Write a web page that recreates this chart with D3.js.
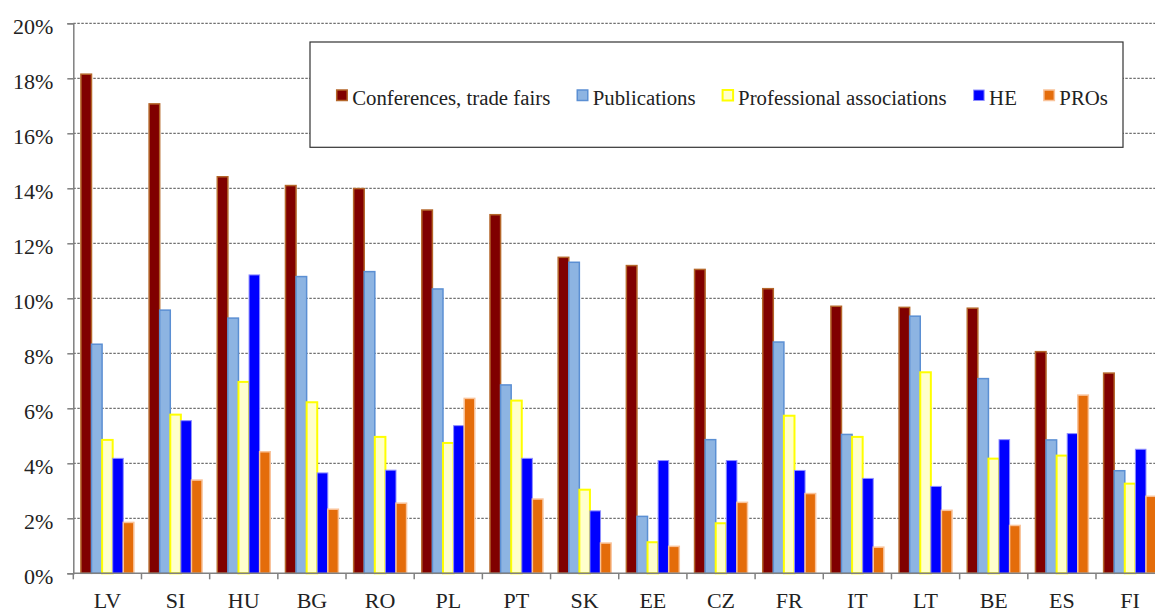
<!DOCTYPE html>
<html>
<head>
<meta charset="utf-8">
<script src="https://cdn.jsdelivr.net/npm/d3@7"></script>
<style>
  body { margin: 0; background: #fff; }
  svg { display: block; }
  svg text { font-family: "Liberation Serif", "DejaVu Serif", "Times New Roman", serif; }
</style>
</head>
<body>
<div class="canvas"></div>
<script>
// chart data (values in %)
const countries = ["LV", "SI", "HU", "BG", "RO", "PL", "PT", "SK", "EE", "CZ", "FR", "IT", "LT", "BE", "ES", "FI"];
const seriesNames = ["Conferences, trade fairs", "Publications", "Professional associations", "HE", "PROs"];
const conferences = [18.15, 17.07, 14.42, 14.1, 13.99, 13.21, 13.04, 11.49, 11.19, 11.05, 10.35, 9.71, 9.67, 9.64, 8.06, 7.28];
const publications = [8.33, 9.57, 9.28, 10.79, 10.97, 10.34, 6.85, 11.31, 2.07, 4.86, 8.41, 5.05, 9.35, 7.08, 4.85, 3.73];
const professional = [4.85, 5.77, 6.96, 6.22, 4.96, 4.74, 6.28, 3.04, 1.13, 1.82, 5.73, 4.96, 7.31, 4.17, 4.28, 3.26];
const he = [4.18, 5.55, 10.85, 3.65, 3.75, 5.37, 4.18, 2.27, 4.10, 4.10, 3.74, 3.45, 3.16, 4.86, 5.08, 4.51];
const pros = [1.85, 3.39, 4.42, 2.33, 2.55, 6.36, 2.70, 1.10, 0.98, 2.58, 2.90, 0.95, 2.29, 1.74, 6.48, 2.80];
const yTicks = [0, 2, 4, 6, 8, 10, 12, 14, 16, 18, 20];

const seriesValues = [conferences, publications, professional, he, pros];
const fills = ["#800000", "#8db4e2", "#ffffcc", "#0000ff", "#e46c0a"];
const strokes = ["#b4662a", "#5b8fd3", "#ffff00", "#8f8fff", "#f9c39a"];
const strokeW = [1.5, 1.5, 2, 1, 1.5];

const serif = '"Liberation Serif", "DejaVu Serif", "Times New Roman", serif';

const dims = { width: 1155, height: 612 };
const margin = { left: 73.3, top: 23.3 };
const plotH = 550;
const plotW = 16 * 68.18; // runs past the right edge like the original

const svg = d3.select('.canvas')
    .append('svg')
    .attr('width', dims.width)
    .attr('height', dims.height);

const graph = svg.append('g')
    .attr('transform', `translate(${margin.left}, ${margin.top})`);

// scales
const x = d3.scaleBand()
    .domain(countries)
    .range([0, plotW])
    .padding(0);

const xSub = d3.scaleBand()
    .domain(seriesNames)
    .range([0, x.bandwidth()])
    .paddingInner(0)
    .paddingOuter(0.72);

const y = d3.scaleLinear()
    .domain([0, 20])
    .range([plotH, 0]);

// dashed gridlines
graph.append('g')
    .selectAll('line')
    .data(yTicks.filter(t => t > 0))
    .enter().append('line')
    .attr('x1', 0)
    .attr('x2', plotW)
    .attr('y1', d => y(d))
    .attr('y2', d => y(d))
    .attr('stroke', '#4d4d4d')
    .attr('stroke-width', 1)
    .attr('stroke-dasharray', '2.5,1.5');

// legend box
const legend = graph.append('g');
legend.append('rect')
    .attr('x', 310 - margin.left)
    .attr('y', 42 - margin.top)
    .attr('width', 1123 - 310)
    .attr('height', 147.3 - 42)
    .attr('fill', '#fff')
    .attr('stroke', '#333')
    .attr('stroke-width', 1.2);

// bars
const groups = graph.append('g')
    .selectAll('g')
    .data(seriesNames)
    .enter().append('g')
    .attr('fill', (d, i) => fills[i])
    .attr('stroke', (d, i) => strokes[i])
    .attr('stroke-width', (d, i) => strokeW[i]);

groups.selectAll('rect')
    .data((name, i) => seriesValues[i].map((v, j) => ({ name, country: countries[j], value: v })))
    .enter().append('rect')
    .attr('x', d => x(d.country) + xSub(d.name))
    .attr('y', d => y(d.value))
    .attr('width', xSub.bandwidth())
    .attr('height', d => y(0) - y(d.value));

// y axis
const yAxis = d3.axisLeft(y)
    .tickValues(yTicks)
    .tickSize(6)
    .tickPadding(14)
    .tickFormat(d => d + '%');

const yG = graph.append('g').call(yAxis).attr('font-family', null);
yG.select('.domain').attr('stroke', '#808080').attr('stroke-width', 1.5);
yG.selectAll('.tick line').attr('stroke', '#808080').attr('stroke-width', 1.5);
yG.selectAll('.tick text')
    .style('font-family', serif)
    .style('font-size', '22px')
    .attr('fill', '#222')
    .attr('dy', '0.45em');

// x axis: line, boundary ticks and labels
const xG = graph.append('g').attr('transform', `translate(0, ${plotH})`);
xG.append('line')
    .attr('x1', 0).attr('x2', plotW)
    .attr('stroke', '#808080').attr('stroke-width', 1.5);
xG.selectAll('.bt')
    .data(countries)
    .enter().append('line')
    .attr('class', 'bt')
    .attr('x1', d => x(d)).attr('x2', d => x(d))
    .attr('y1', 0).attr('y2', 6)
    .attr('stroke', '#808080').attr('stroke-width', 1.5);
xG.selectAll('text')
    .data(countries)
    .enter().append('text')
    .attr('x', d => x(d) + x.bandwidth() / 2)
    .attr('y', 34.5)
    .attr('text-anchor', 'middle')
    .style('font-family', serif)
    .style('font-size', '22px')
    .attr('fill', '#222')
    .text(d => d);

// legend items, laid out one after another
let lx = 336.7 - margin.left;
const ly = 90 - margin.top;
seriesNames.forEach((name, i) => {
    legend.append('rect')
        .attr('x', lx)
        .attr('y', ly)
        .attr('width', 10.5)
        .attr('height', 10.5)
        .attr('fill', fills[i])
        .attr('stroke', strokes[i])
        .attr('stroke-width', strokeW[i]);
    const t = legend.append('text')
        .attr('x', lx + 15.5)
        .attr('y', ly + 15)
        .style('font-family', serif)
        .style('font-size', '20.8px')
        .attr('fill', '#222')
        .text(name);
    lx += 15.5 + t.node().getComputedTextLength() + 27;
});
</script>
</body>
</html>
